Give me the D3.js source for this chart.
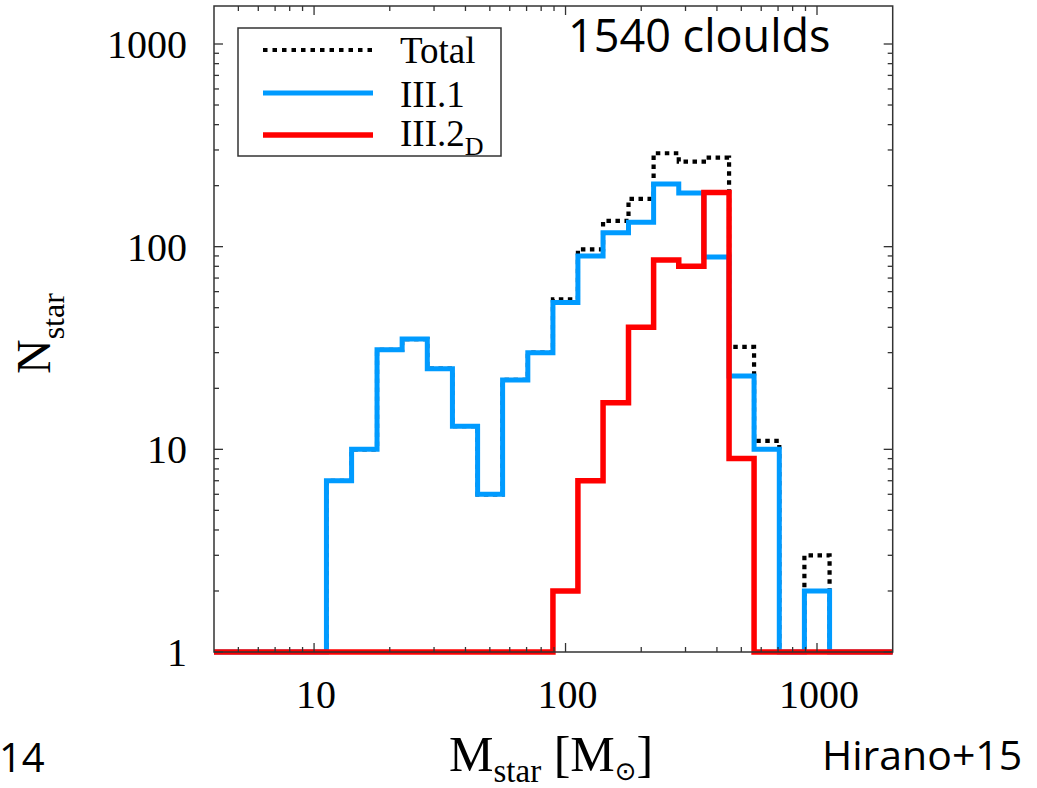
<!DOCTYPE html>
<html>
<head>
<meta charset="utf-8">
<script src="https://cdn.jsdelivr.net/npm/d3@7"></script>
<style>
  html, body { margin: 0; padding: 0; background: #fff; }
  svg { display: block; }
</style>
</head>
<body>
<svg id="chart" width="1037" height="788"></svg>
<script>
// Mass bin edges (solar masses), 0.1 dex wide
const binEdges = [11.2, 14.1, 17.8, 22.4, 28.2, 35.5, 44.7, 56.2, 70.8, 89.1, 112,
                  141, 178, 224, 282, 355, 447, 562, 708, 891, 1122];
// Number of stars per bin
const countIII1  = [7, 10, 31, 35, 25, 13, 6, 22, 30, 53, 90, 117, 132, 204, 184, 89, 23, 10, 0, 2];
const countIII2D = [0, 0, 0, 0, 0, 0, 0, 0, 0, 2, 7, 17, 40, 86, 80, 185, 9, 0, 0, 0];
const countTotal = [7, 10, 31, 35, 25, 13, 6, 22, 30, 55, 97, 134, 172, 289, 263, 275, 32, 11, 0, 3];

const xTicksMajor = [10, 100, 1000];
const yTicksMajor = [1, 10, 100, 1000];
const massDomain = [4, 2000];
const countDomain = [1, 1540];

const svg = d3.select("#chart");
const L = 214, R = 892.7, T = 6, B = 652;

const x = d3.scaleLog().domain(massDomain).range([L, R]);
const y = d3.scaleLog().domain(countDomain).range([B, T]);

const serif = "'Liberation Serif', 'DejaVu Serif', serif";
const sans = "'Open Sans', 'Noto Sans', sans-serif";

// Step outline of a histogram, zero counts resting on the lower bound
function stepPoints(counts) {
  const pts = [[massDomain[0], 0]];
  counts.forEach((c, i) => pts.push([binEdges[i], c]));
  pts.push([binEdges[binEdges.length - 1], 0]);
  pts.push([massDomain[1], 0]);
  return pts;
}
const line = d3.line()
  .x(d => x(d[0]))
  .y(d => y(Math.max(d[1], countDomain[0])))
  .curve(d3.curveStepAfter);

const plot = svg.append("g");

plot.append("path").datum(stepPoints(countTotal))
  .attr("d", line).attr("fill", "none")
  .attr("stroke", "#000").attr("stroke-width", 4.2)
  .attr("stroke-dasharray", "4.5,4.5");

plot.append("path").datum(stepPoints(countIII1))
  .attr("d", line).attr("fill", "none")
  .attr("stroke", "#009bff").attr("stroke-width", 5);

plot.append("path").datum(stepPoints(countIII2D))
  .attr("d", line).attr("fill", "none")
  .attr("stroke", "#ff0000").attr("stroke-width", 5.5);

// Frame
svg.append("rect")
  .attr("x", L).attr("y", T).attr("width", R - L).attr("height", B - T)
  .attr("fill", "none").attr("stroke", "#333").attr("stroke-width", 1.5);

// Ticks (inward on all four sides)
const ticks = svg.append("g").attr("stroke", "#333").attr("stroke-width", 1.3);
const xMinor = [];
[1, 10, 100, 1000].forEach(d => { for (let k = 2; k <= 9; k++) xMinor.push(d * k); });
const xAll = xTicksMajor.map(v => [v, 9]).concat(
  xMinor.filter(v => v > massDomain[0] && v < massDomain[1]).map(v => [v, 5]));
xAll.forEach(([v, len]) => {
  ticks.append("line").attr("x1", x(v)).attr("x2", x(v)).attr("y1", B).attr("y2", B - len);
  ticks.append("line").attr("x1", x(v)).attr("x2", x(v)).attr("y1", T).attr("y2", T + len);
});
const yMinor = [];
[1, 10, 100, 1000].forEach(d => { for (let k = 2; k <= 9; k++) yMinor.push(d * k); });
const yAll = yTicksMajor.map(v => [v, 9]).concat(
  yMinor.filter(v => v < countDomain[1]).map(v => [v, 5]));
yAll.forEach(([v, len]) => {
  ticks.append("line").attr("y1", y(v)).attr("y2", y(v)).attr("x1", L).attr("x2", L + len);
  ticks.append("line").attr("y1", y(v)).attr("y2", y(v)).attr("x1", R).attr("x2", R - len);
});

// Tick labels
svg.append("g").selectAll("text").data(yTicksMajor).join("text")
  .attr("x", 187).attr("y", d => y(d)).attr("dy", "0.35em")
  .attr("text-anchor", "end").attr("font-family", serif).attr("font-size", 40)
  .attr("fill", "#000").text(d => d);
svg.append("g").selectAll("text").data(xTicksMajor).join("text")
  .attr("x", d => x(d) + 2).attr("y", 708)
  .attr("text-anchor", "middle").attr("font-family", serif).attr("font-size", 40)
  .attr("fill", "#000").text(d => d);

// Axis titles
const yt = svg.append("text")
  .attr("transform", "translate(50,374) rotate(-90)")
  .attr("font-family", serif).attr("font-size", 48).attr("fill", "#000");
yt.append("tspan").text("N");
yt.append("tspan").attr("font-size", 32).attr("dy", 14).text("star");

const xt = svg.append("text")
  .attr("x", 449).attr("y", 771)
  .attr("font-family", serif).attr("font-size", 50).attr("fill", "#000");
xt.append("tspan").text("M");
xt.append("tspan").attr("font-size", 33).attr("dy", 11).text("star");
xt.append("tspan").attr("dy", -11).text(" [M");
xt.append("tspan").attr("font-size", 26).attr("dy", 9).attr("font-family", "'DejaVu Sans', sans-serif").text("\u2299");
xt.append("tspan").attr("dy", -9).text("]");

// Legend
const legend = svg.append("g");
legend.append("rect").attr("x", 238).attr("y", 28).attr("width", 263).attr("height", 128)
  .attr("fill", "#fff").attr("stroke", "#333").attr("stroke-width", 1.5);
const legendItems = [
  { label: "Total", sub: "", color: "#000", width: 4.2, dash: "4.5,5", ly: 50, ty: 63 },
  { label: "III.1", sub: "", color: "#009bff", width: 5, dash: null, ly: 93, ty: 107 },
  { label: "III.2", sub: "D", color: "#ff0000", width: 5.5, dash: null, ly: 135, ty: 146 }
];
legendItems.forEach(it => {
  legend.append("line").attr("x1", 263).attr("x2", 373).attr("y1", it.ly).attr("y2", it.ly)
    .attr("stroke", it.color).attr("stroke-width", it.width)
    .attr("stroke-dasharray", it.dash);
  const t = legend.append("text").attr("x", 400).attr("y", it.ty)
    .attr("font-family", serif).attr("font-size", 37).attr("fill", "#000");
  t.append("tspan").text(it.label);
  if (it.sub) t.append("tspan").attr("font-size", 26).attr("dy", 9).text(it.sub);
});

// Annotations
svg.append("text").attr("x", 568).attr("y", 52)
  .attr("font-family", sans).attr("font-size", 45).attr("fill", "#000").text("1540 cloulds");
svg.append("text").attr("x", 822).attr("y", 770)
  .attr("font-family", sans).attr("font-size", 41).attr("fill", "#000").text("Hirano+15");
svg.append("text").attr("x", -1).attr("y", 772)
  .attr("font-family", sans).attr("font-size", 40).attr("fill", "#000").text("14");
</script>
</body>
</html>
